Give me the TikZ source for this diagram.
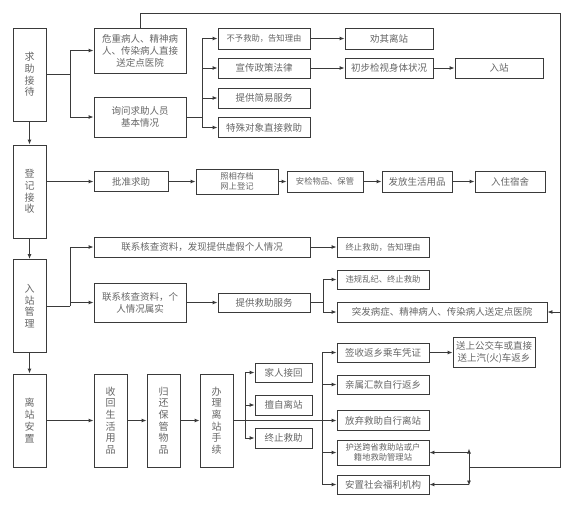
\documentclass[tikz,border=0pt]{standalone}
\usepackage{fontspec}
\setmainfont{Noto Sans CJK SC}
\usetikzlibrary{arrows.meta,calc,positioning}
\definecolor{LineGray}{HTML}{3A3A3A}
\definecolor{TextGray}{HTML}{666666}

\begin{document}
\begin{tikzpicture}[x=1pt,y=-1pt,
    box/.style={draw=LineGray,line width=.9pt,inner sep=1pt,align=center,text=TextGray,
                minimum width=92pt,minimum height=20pt,font=\fontsize{9.5}{12}\selectfont},
    small/.style={font=\fontsize{8.3}{10.5}\selectfont},
    stage/.style={box,minimum width=33pt,minimum height=93pt,font=\fontsize{10}{11.7}\selectfont},
    arr/.style={-{Latex[length=5pt,width=4pt]},line width=.9pt,LineGray},
    line/.style={line width=.9pt,LineGray}]
  \useasboundingbox (0,0) rectangle (573,507);
  % stages
  \node[stage] (s1) at (29.5,74.5) {求\\助\\接\\待};
  \node[stage] (s2) at (29.5,191.5) {登\\记\\接\\收};
  \node[stage] (s3) at (29.5,306) {入\\站\\管\\理};
  \node[stage] (s4) at (29.5,420.5) {离\\站\\安\\置};
  \foreach \a/\b in {s1/s2,s2/s3,s3/s4}{\draw[arr] (\a.south) -- (\b.north);}
  % reception
  \node[box,minimum height=45pt] (a1) at (140,50.5) {危重病人、精神病\\人、传染病人直接\\送定点医院};
  \node[box,minimum height=40pt] (a2) at (140,117) {询问求助人员\\基本情况};
  \node[box,small,minimum height=21pt] (b1) at (264,38.5) {不予救助，告知理由};
  \node[box] (b2) at (264,68) {宣传政策法律};
  \node[box] (b3) at (264,98) {提供简易服务};
  \node[box] (b4) at (264,127.5) {特殊对象直接救助};
  \node[box,minimum width=88pt,minimum height=21pt] (c1) at (389,38.5) {劝其离站};
  \node[box,minimum width=88pt] (c2) at (389,68) {初步检视身体状况};
  \node[box,minimum width=88pt] (c3) at (499,68) {入站};
  \coordinate (j1) at (70,0);
  \coordinate (j2) at (202,0);
  \draw[line] (s1.east) -- (s1.east -| j1);
  \foreach \n in {a1,a2}{\draw[arr] (s1.east -| j1) |- (\n.west);}
  \draw[line] (a2.east) -- (a2.east -| j2);
  \foreach \n in {b1,b2,b3,b4}{\draw[arr] (a2.east -| j2) |- (\n.west);}
  \draw[arr] (b1.east) -- (c1.west);
  \draw[arr] (b2.east) -- (c2.west);
  \draw[arr] (c2.east) -- (c3.west);
  % registration
  \node[box,minimum width=74pt] (d1) at (131,181.5) {批准求助};
  \node[box,small,minimum width=82pt,minimum height=25pt] (d2) at (237,181.5) {照相存档\\网上登记};
  \node[box,small,minimum width=76pt,minimum height=21pt] (d3) at (325,181.5) {安检物品、保管};
  \node[box,minimum width=70pt,minimum height=21pt] (d4) at (417,181.5) {发放生活用品};
  \node[box,minimum width=70pt,minimum height=21pt] (d5) at (510,181.5) {入住宿舍};
  \draw[arr] (s2.east |- d1.west) -- (d1.west);
  \foreach \a/\b in {d1/d2,d2/d3,d3/d4,d4/d5}{\draw[arr] (\a.east) -- (\b.west);}
  % station management
  \node[box,minimum width=216pt] (e1) at (202,247) {联系核查资料，发现提供虚假个人情况};
  \node[box,small] (e2) at (383,247) {终止救助，告知理由};
  \node[box,minimum height=39pt] (f1) at (140,302.5) {联系核查资料，个\\人情况属实};
  \node[box,minimum height=19pt] (f2) at (264,302.5) {提供救助服务};
  \node[box,small,minimum height=19pt] (g1) at (383,279.5) {违规乱纪、终止救助};
  \node[box,minimum width=210pt] (g2) at (442,312) {突发病症、精神病人、传染病人送定点医院};
  \coordinate (j3) at (70,0);
  \coordinate (j4) at (323,0);
  \draw[line] (s3.east) -- (s3.east -| j3);
  \foreach \n in {e1,f1}{\draw[arr] (s3.east -| j3) |- (\n.west);}
  \draw[arr] (e1.east) -- (e2.west);
  \draw[arr] (f1.east) -- (f2.west);
  \draw[line] (f2.east) -- (f2.east -| j4);
  \foreach \n in {g1,g2}{\draw[arr] (f2.east -| j4) |- (\n.west);}
  % departure
  \node[stage] (h1) at (110.5,420.5) {收\\回\\生\\活\\用\\品};
  \node[stage] (h2) at (163.5,420.5) {归\\还\\保\\管\\物\\品};
  \node[stage] (h3) at (216.5,420.5) {办\\理\\离\\站\\手\\续};
  \node[box,minimum width=57pt,minimum height=19pt] (i1) at (283.5,372.5) {家人接回};
  \node[box,minimum width=57pt] (i2) at (283.5,405) {擅自离站};
  \node[box,minimum width=57pt] (i3) at (283.5,438) {终止救助};
  \node[box,minimum height=19pt] (m1) at (383,352.5) {签收返乡乘车凭证};
  \node[box,minimum height=19pt] (m2) at (383,384.5) {亲属汇款自行返乡};
  \node[box] (m3) at (383,420.5) {放弃救助自行离站};
  \node[box,small,minimum height=25pt] (m4) at (383,452.5) {护送跨省救助站或户\\籍地救助管理站};
  \node[box,minimum height=19pt] (m5) at (383,484.5) {安置社会福利机构};
  \node[box,minimum width=82pt,minimum height=30pt] (n1) at (494,352.5) {送上公交车或直接\\送上汽(火)车返乡};
  \foreach \a/\b in {s4/h1,h1/h2,h2/h3}{\draw[arr] (\a.east) -- (\b.west);}
  \coordinate (j5) at (245,0);
  \coordinate (j6) at (322,0);
  \foreach \n in {i1,i2,i3}{\draw[arr] (h3.east -| j5) |- (\n.west);}
  \draw[arr] (h3.east) -- (m3.west);
  \draw[line] (j6 |- m1.west) -- (j6 |- m5.west);
  \foreach \n in {m1,m2,m4,m5}{\draw[arr] (j6 |- \n.west) -- (\n.west);}
  \draw[arr] (m1.east) -- (n1.west);
  % hospital loop
  \coordinate (rail) at (560,13);
  \coordinate (railend) at (469,467);
  \draw[line] (a1.north) |- (rail) -- (rail |- railend) -- (railend);
  \draw[arr] (rail |- g2.east) -- (g2.east);
  \draw[arr] (railend) -- ($(railend |- m4.east)+(0,-4)$);
  \draw[arr] (railend) -- ($(railend |- m5.east)+(0,1)$);
  \draw[arr] (railend |- m4.east) -- (m4.east);
  \draw[arr] (railend |- m5.east) -- (m5.east);
\end{tikzpicture}
\end{document}
